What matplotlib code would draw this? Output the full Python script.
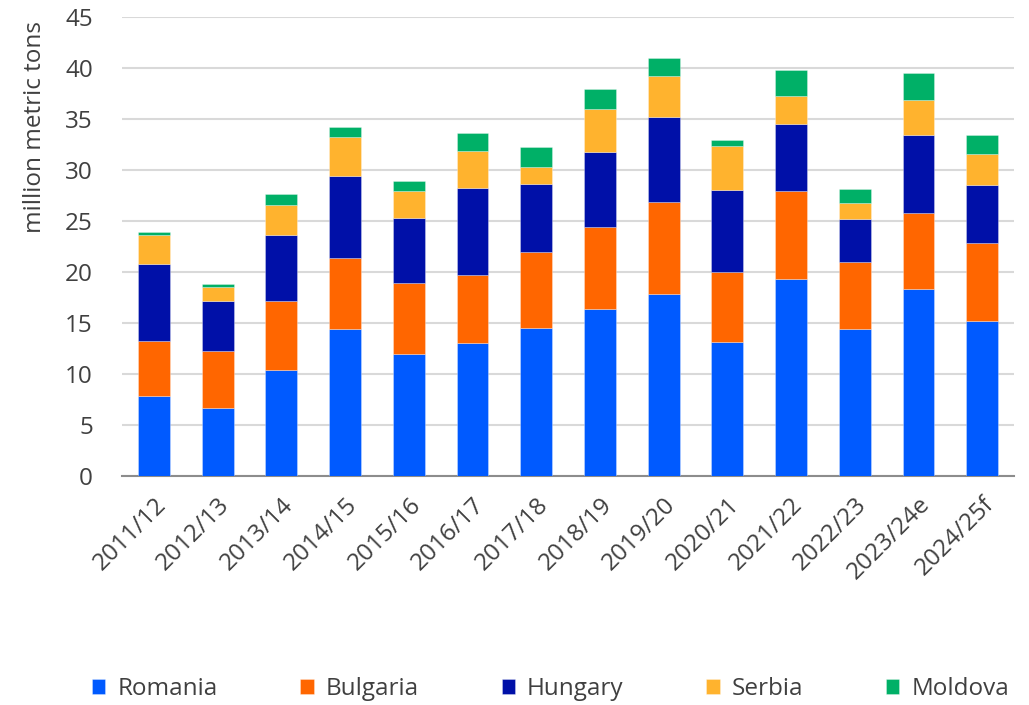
import matplotlib
matplotlib.use("Agg")
import matplotlib.pyplot as plt
import numpy as np

plt.rcParams['font.family'] = ['Open Sans', 'DejaVu Sans']

seasons = ["2011/12", "2012/13", "2013/14", "2014/15", "2015/16", "2016/17", "2017/18",
           "2018/19", "2019/20", "2020/21", "2021/22", "2022/23", "2023/24e", "2024/25f"]
romania  = [7.8, 6.7, 10.4, 14.4, 12.0, 13.0, 14.5, 16.4, 17.8, 13.1, 19.3, 14.4, 18.3, 15.2]
bulgaria = [5.4, 5.6, 6.8, 7.0, 6.9, 6.7, 7.5, 8.0, 9.1, 6.9, 8.6, 6.6, 7.5, 7.6]
hungary  = [7.6, 4.9, 6.4, 8.0, 6.4, 8.5, 6.6, 7.4, 8.3, 8.0, 6.6, 4.2, 7.6, 5.7]
serbia   = [2.85, 1.3, 3.0, 3.8, 2.6, 3.7, 1.7, 4.2, 4.0, 4.4, 2.8, 1.6, 3.5, 3.1]
moldova  = [0.3, 0.33, 1.0, 1.0, 1.0, 1.7, 2.0, 1.9, 1.8, 0.5, 2.5, 1.3, 2.6, 1.8]

series = [("Romania", romania, "#005AFF"),
          ("Bulgaria", bulgaria, "#FF6600"),
          ("Hungary", hungary, "#0010A8"),
          ("Serbia", serbia, "#FFB32E"),
          ("Moldova", moldova, "#00B067")]

FS = 17.5
TXT = "#404040"

fig = plt.figure(figsize=(10.29, 7.05), dpi=100)
ax = fig.add_axes([122/1029, 1 - 476/705, (1014 - 122)/1029, (476 - 17)/705])

x = np.arange(len(seasons))
bottom = np.zeros(len(seasons))
handles = []
for name, vals, col in series:
    v = np.array(vals, dtype=float)
    b = ax.bar(x, v, width=0.5, bottom=bottom, color=col, label=name, zorder=3,
               edgecolor=(1, 1, 1, 0.35), linewidth=0.6)
    handles.append(b)
    bottom += v

ax.set_xlim(-0.5, len(seasons) - 0.5)
ax.set_ylim(0, 45)
ax.set_yticks(np.arange(0, 46, 5))
ax.yaxis.grid(True, color="#D9D9D9", linewidth=1.5, zorder=0)
ax.set_axisbelow(True)
for s in ["top", "right", "left"]:
    ax.spines[s].set_visible(False)
ax.spines["bottom"].set_color("#8C8C8C")
ax.spines["bottom"].set_linewidth(1.5)
ax.tick_params(axis="both", length=0, labelsize=FS, colors=TXT)
ax.tick_params(axis="y", pad=21)
ax.set_xticks(x)
ax.set_xticklabels(seasons, rotation=45, ha="right", rotation_mode="anchor")
ax.tick_params(axis="x", pad=12)

fig.text(35/1029, 1 - 127/705, "million metric tons", rotation=90, ha="center",
         va="center", fontsize=FS, color=TXT)

leg = fig.legend(handles=handles, labels=[s[0] for s in series], loc="center",
                 bbox_to_anchor=(0.535, 1 - 689/705), ncol=5, frameon=False,
                 fontsize=FS, handlelength=0.55, handleheight=0.55, handletextpad=0.5,
                 columnspacing=3.4, labelcolor=TXT)

fig.savefig("out.png", dpi=100)
